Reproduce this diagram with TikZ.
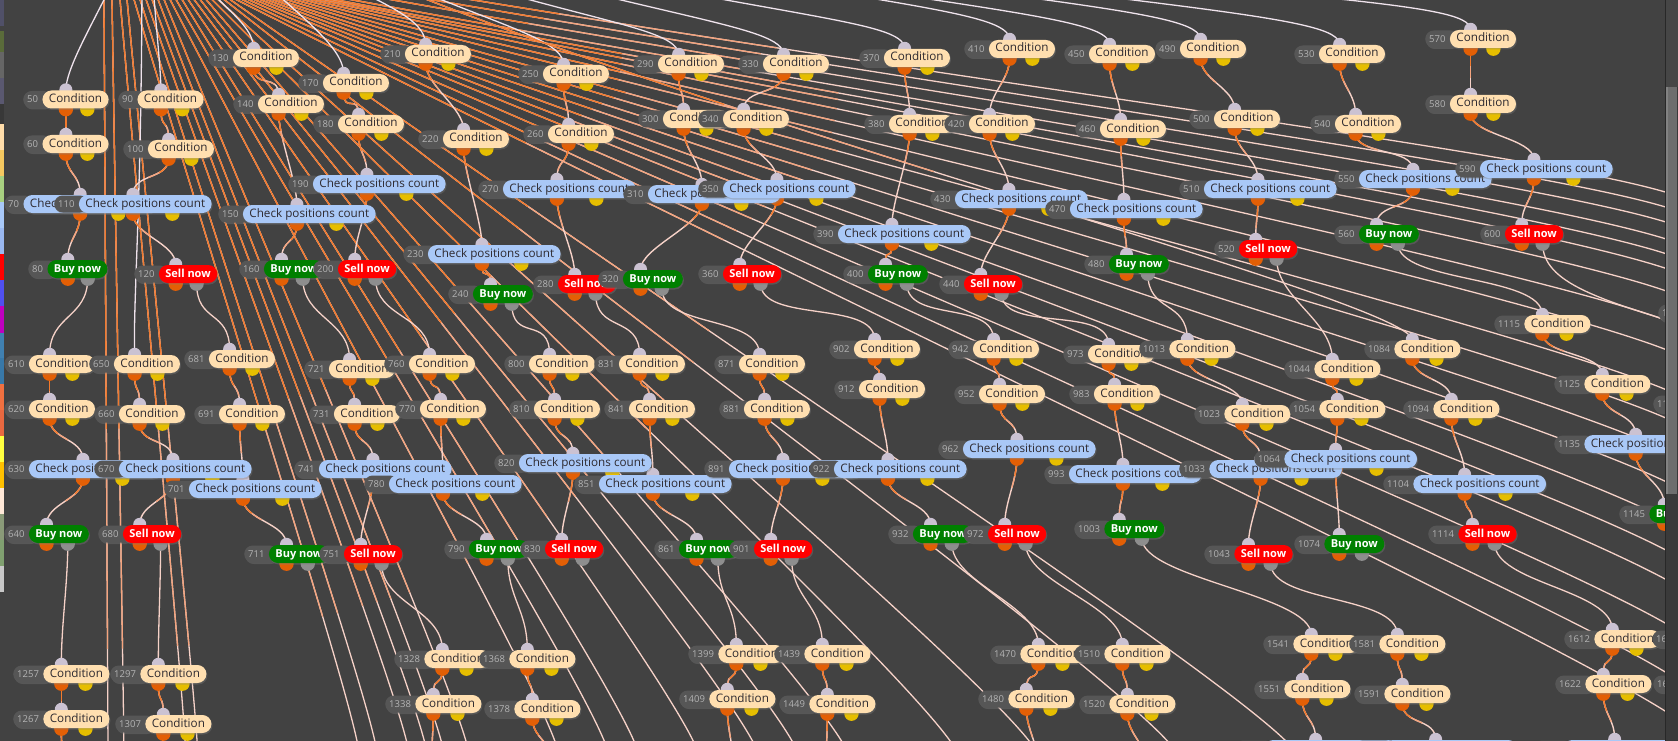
\documentclass[tikz,border=0pt]{standalone}
\usepackage{fontspec}
\setmainfont{Open Sans}
\usetikzlibrary{calc,shadows}
\pgfdeclarelayer{bgl}\pgfdeclarelayer{edges}\pgfdeclarelayer{ports}\pgfdeclarelayer{front}
\pgfsetlayers{bgl,edges,ports,main,front}
\definecolor{bgc}{HTML}{424242}
\definecolor{cnum}{HTML}{565656}
\definecolor{cnumt}{HTML}{B4B4B4}
\definecolor{cpeach}{HTML}{FFDFB0}
\definecolor{cblue}{HTML}{A9C8F7}
\definecolor{cgreen}{HTML}{008000}
\definecolor{cred}{HTML}{FF0000}
\definecolor{ctxt}{HTML}{2E2A30}
\definecolor{cin}{HTML}{CBC2D2}
\definecolor{corgp}{HTML}{E35F05}
\definecolor{cyel}{HTML}{E6BE00}
\definecolor{cgp}{HTML}{8E8E8E}
\definecolor{corg}{HTML}{F27A2E}
\definecolor{cmid}{HTML}{F5A47E}
\definecolor{cpale}{HTML}{F6D2C8}
\definecolor{cwhite}{HTML}{EFE3EC}
\def\Tcond{Condition}\def\Tchk{Check positions count}\def\Tbuy{Buy now}\def\Tsell{Sell now}
\def\Pcond{cyel}\def\Pchk{cyel}\def\Pbuy{cgp}\def\Psell{cgp}
\tikzset{
 numbox/.style={fill=cnum,text=cnumt,rounded corners=8.5pt,minimum height=17pt,inner ysep=0pt,inner xsep=4pt,
   font=\fontsize{9.5}{10}\selectfont,text height=7pt,text depth=0pt,
   drop shadow={shadow xshift=1pt,shadow yshift=-1.5pt,opacity=0.35}},
 pill/.style={rounded corners=9pt,minimum height=18pt,inner ysep=0pt,inner xsep=6.5pt,text height=8.5pt,text depth=2.5pt,
   font=\fontsize{11.7}{12}\selectfont,drop shadow={shadow xshift=1pt,shadow yshift=-1.5pt,opacity=0.35}},
 cond/.style={pill,fill=cpeach,text=ctxt},
 chk/.style={pill,fill=cblue,text=ctxt},
 buy/.style={pill,fill=cgreen,text=white,font=\fontsize{11}{12}\selectfont\bfseries},
 sell/.style={pill,fill=cred,text=white,font=\fontsize{11}{12}\selectfont\bfseries},
 le/.style={line width=1.4pt,draw=cpale,postaction={draw=cmid,dash pattern=on 30pt off 9000pt},
   postaction={draw=corg,dash pattern=on 18pt off 9000pt}},
 ll/.style 2 args={line width=1.3pt,draw=cpale,postaction={draw=cmid,dash pattern=on #2 off 9000pt},
   postaction={draw=corg,dash pattern=on #1 off 9000pt}},
 wl/.style={line width=1.3pt,draw=cwhite},
 pl/.style={line width=1.3pt,draw=cpale},
}
\newcommand\nd[5]{%
 \node[numbox,anchor=west] (#1n) at (#2,#3) {#4\hspace*{10pt}};
 \node[#5,anchor=west] (#1) at ([xshift=-10pt]#1n.east) {\csname T#5\endcsname};
 \path let \p1=(#1n.west),\p2=(#1.east),\p3=(#1.north),\p4=(#1.south) in
   coordinate (#1-in) at ({(\x1+\x2)/2},\y3)
   coordinate (#1-o1) at ({(\x1+\x2)/2},\y4)
   coordinate (#1-o2) at ({(\x1+\x2)/2+(\x2-\x1)/4},\y4);
 \begin{pgfonlayer}{ports}
   \fill[cin] ([yshift=0.5pt]#1-in) circle (6.5pt);
   \fill[corgp] ([yshift=-0.5pt]#1-o1) circle (7.2pt);
   \fill[\csname P#5\endcsname] ([yshift=-0.5pt]#1-o2) circle (7.2pt);
 \end{pgfonlayer}}
\begin{document}
\begin{tikzpicture}[x=1pt,y=-1pt]
\useasboundingbox (0,0) rectangle (1678,741);
\begin{pgfonlayer}{bgl}
\fill[bgc] (0,0) rectangle (1678,741);
\end{pgfonlayer}
% ---------------- nodes
\foreach \nm/\x/\y/\t in {
50/23/99.5/cond,60/23/144/cond,70/4/204/chk,80/28/269/buy,
90/118/99.5/cond,100/123/149/cond,110/54/204/chk,120/134/274/sell,
130/208/58/cond,140/233/104/cond,150/218/214/chk,160/239/269/buy,
170/298/83/cond,180/313/124/cond,190/288/184/chk,200/313/269/sell,
210/380/54/cond,220/418/139/cond,230/403/254/chk,240/448/294/buy,
250/518/74/cond,260/523/134/cond,270/478/189/chk,280/533/284/sell,
290/633/64/cond,300/638/119/cond,310/623/194/chk,320/598/279/buy,
330/738/64/cond,340/698/119/cond,350/698/189/chk,360/698/274/sell,
370/859/58/cond,380/864/124/cond,390/813/234/chk,400/843/274/buy,
410/964/49/cond,420/944/124/cond,430/930/199/chk,440/939/284/sell,
450/1064/54/cond,460/1075/129/cond,470/1045/209/chk,480/1084/264/buy,
490/1155/49/cond,500/1189/119/cond,510/1179/189/chk,520/1214/249/sell,
530/1294/54/cond,540/1310/124/cond,550/1334/179/chk,560/1334/234/buy,
570/1425/39/cond,580/1425/104/cond,590/1455/169/chk,600/1480/234/sell,
610/4/364/cond,620/4/409/cond,630/4/469/chk,640/4/534/buy,
650/89/364/cond,660/94/414/cond,670/94/469/chk,680/98/534/sell,
681/184/359/cond,691/194/414/cond,701/164/489/chk,711/244/554/buy,
721/304/369/cond,731/309/414/cond,741/294/469/chk,751/319/554/sell,
760/384/364/cond,770/395/409/cond,780/364/484/chk,790/444/549/buy,
800/504/364/cond,810/509/409/cond,820/494/463/chk,830/520/549/sell,
831/594/364/cond,841/604/409/cond,851/574/484/chk,861/654/549/buy,
871/714/364/cond,881/719/409/cond,891/704/469/chk,901/729/549/sell,
902/829/349/cond,912/834/389/cond,922/809/469/chk,932/888/534/buy,
942/948/349/cond,952/954/394/cond,962/938/449/chk,972/963/534/sell,
973/1063/354/cond,983/1069/394/cond,993/1044/474/chk,1003/1074/529/buy,
1013/1139/349/cond,1023/1194/414/cond,1033/1179/469/chk,1043/1204/554/sell,
1044/1284/369/cond,1054/1289/409/cond,1064/1254/459/chk,1074/1294/544/buy,
1084/1364/349/cond,1094/1403/409/cond,1104/1383/484/chk,1114/1428/534/sell,
1115/1494/324/cond,1125/1554/384/cond,1135/1554/444/chk,1145/1619/514/buy,
1156/1658/313/cond,1166/1653/404/cond,
1257/13/674/cond,1267/13/719/cond,1297/110/674/cond,1307/115/724/cond,
1328/394/659/cond,1338/385/704/cond,1368/479/659/cond,1378/484/709/cond,
1399/688/654/cond,1409/679/699/cond,1439/774/654/cond,1449/779/704/cond,
1470/990/654/cond,1480/978/699/cond,1510/1074/654/cond,1520/1079/704/cond,
1541/1263/644/cond,1551/1254/689/cond,1581/1349/644/cond,1591/1354/694/cond,
1561/1234/749/chk,1601/1354/749/chk,
1612/1564/639/cond,1652/1652/639/cond,1622/1555/684/cond,1662/1653/684/cond,1632/1533/749/chk}
{\nd{n\nm}{\x}{\y}{\nm}{\t}}
% ---------------- edges
\begin{pgfonlayer}{edges}
% fan of long lines from above
\foreach \xo/\tx/\ty/\lo in {104/108/760/520,112/124/760/520,120/186/760/520,127/198/760/520,
 134/360/760/520,140/378/760/520,146/410/760/520,152/428/760/520,158/445/760/520,164/470/760/520,
 170/560/760/520,176/610/760/520,182/640/760/520,188/700/760/520,194/760/760/520,200/800/760/520,
 206/850/760/520,212/960/760/520,218/1040/760/520,224/1180/760/520,230/1300/760/520,
 236/1700/740/520,242/1700/700/520,248/1700/650/520,254/1700/605/520,260/1700/575/520,266/1700/543/520,
 272/1700/505/520,278/1700/473/520,286/1700/440/520,294/1700/411/520,302/1700/370/500,310/1700/340/490,
 318/1700/310/480,326/1700/287/470,334/1700/272/460,
 350/1700/257/340,390/1700/240/300,430/1700/225/270,470/1700/210/240}
{\coordinate (fx) at (\xo,0);
 \coordinate (ft) at (\tx,\ty);
 \coordinate (fs) at ($(fx)!-0.12!(ft)$);
 \draw[ll={\lo pt}{\lo pt+220pt}] (fs) .. controls ($(fx)!0.45!(ft)$) and ($(ft)+(0,-40)$) .. (ft);}
% pale lines into the top nodes
\foreach \sx/\sy/\ax/\ay/\n in {140/-80/115/-10/n50,150/-80/152/0/n90,170/-60/205/0/n130,
 230/-50/290/10/n170,300/-40/370/0/n210,330/-50/470/20/n250,340/-60/560/20/n290,360/-70/660/20/n330,
 380/-70/780/20/n370,400/-80/880/5/n410,420/-80/960/10/n450,450/-80/1050/5/n490,480/-80/1180/10/n530,
 500/-80/1300/0/n570}
{\coordinate (ts) at (\sx,\sy);
 \draw[wl] (ts) .. controls (\ax,\ay) and ($(\n-in)+(0,-30)$) .. (\n-in);}
\coordinate (s650) at (142,-40);
\draw[wl] (s650) .. controls (142,200) and (133,300) .. (n650-in);
\coordinate (s1084) at (330,-40);
\draw[ll={420pt}{640pt}] (s1084) .. controls (700,120) and (1408,300) .. (n1084-in);
% local chains
\foreach \a/\b in {50/60,60/70,70/80,90/100,100/110,110/120,130/140,140/150,150/160,170/180,180/190,190/200,
 210/220,220/230,230/240,250/260,260/270,270/280,290/300,300/310,310/320,330/340,340/350,350/360,
 370/380,380/390,390/400,410/420,420/430,430/440,450/460,460/470,470/480,490/500,500/510,510/520,
 530/540,540/550,550/560,570/580,580/590,590/600,
 610/620,620/630,630/640,650/660,660/670,670/680,681/691,691/701,701/711,721/731,731/741,741/751,
 760/770,770/780,780/790,800/810,810/820,820/830,831/841,841/851,851/861,871/881,881/891,891/901,
 902/912,912/922,922/932,942/952,952/962,962/972,973/983,983/993,993/1003,1013/1023,1023/1033,1033/1043,
 1044/1054,1054/1064,1064/1074,1084/1094,1094/1104,1104/1114,1115/1125,1125/1135,1135/1145,
 1257/1267,1297/1307,1328/1338,1368/1378,1399/1409,1439/1449,1470/1480,1510/1520,1541/1551,1581/1591,
 1612/1622,1551/1561,1591/1601,1622/1632,1652/1662}
{\draw[le] (n\a-o1) .. controls +(0,22) and +(0,-22) .. (n\b-in);}
% buy/sell outputs to the next clusters
\foreach \a/\b in {80/610,120/681,160/721,200/760,240/800,280/831,320/871,360/902,400/942,440/973,
 480/1013,520/1044,560/1115,640/1257,680/1297,751/1328,790/1368,861/1399,901/1439,932/1470,972/1510,
 1003/1541,1043/1581,1114/1612}
{\draw[pl] (n\a-o2) .. controls +(0,40) and +(0,-40) .. (n\b-in);}
\coordinate (x600) at (1700,330);
\draw[pl] (n600-o2) .. controls +(0,40) and (1600,300) .. (x600);
\coordinate (x1145) at (1700,600);
\draw[pl] (n1145-o2) .. controls +(0,30) and (1680,570) .. (x1145);
% chain outputs leaving the bottom
\foreach \a/\tx in {1267/63,1307/158,1338/431,1378/560,1409/734,1449/826,1480/1040,1520/1150}
{\coordinate (b\a) at (\tx,770);
 \draw[le] (n\a-o1) .. controls +(0,22) and +(0,-22) .. (b\a);}
\end{pgfonlayer}
% ---------------- window frame
\begin{pgfonlayer}{front}
\foreach \ya/\yb/\c in {0/26/505068,31/52/5A6B3A,52/78/666666,78/104/5A5870,104/124/383838,124/150/FFDDAA,
 150/176/F5C860,176/202/A8D080,202/228/A8C8F8,228/254/9AB8F0,254/280/FF0000,280/306/5050F0,306/333/C000C0,
 333/358/4080B0,358/384/3878A8,384/410/F07040,410/436/E86840,436/462/FFFF40,462/488/FFC000,488/514/FFE8D8,
 514/540/8A9A78,540/566/80A070,566/592/C8C8C8}
{\definecolor{pc}{HTML}{\c}\fill[pc] (0,\ya) rectangle (4,\yb);}
\fill[fill={rgb,255:red,58;green,58;blue,58}] (1665,0) rectangle (1678,741);
\fill[fill={rgb,255:red,70;green,70;blue,70}] (1666,0) rectangle (1678,87);
\fill[fill={rgb,255:red,110;green,110;blue,110}] (1666,87) rectangle (1677,494);
\fill[fill={rgb,255:red,130;green,130;blue,130}] (1666,87) rectangle (1668,494);
\draw[line width=1pt,draw={rgb,255:red,40;green,40;blue,40}] (1665,0) -- (1665,741);
\end{pgfonlayer}
\end{tikzpicture}
\end{document}
